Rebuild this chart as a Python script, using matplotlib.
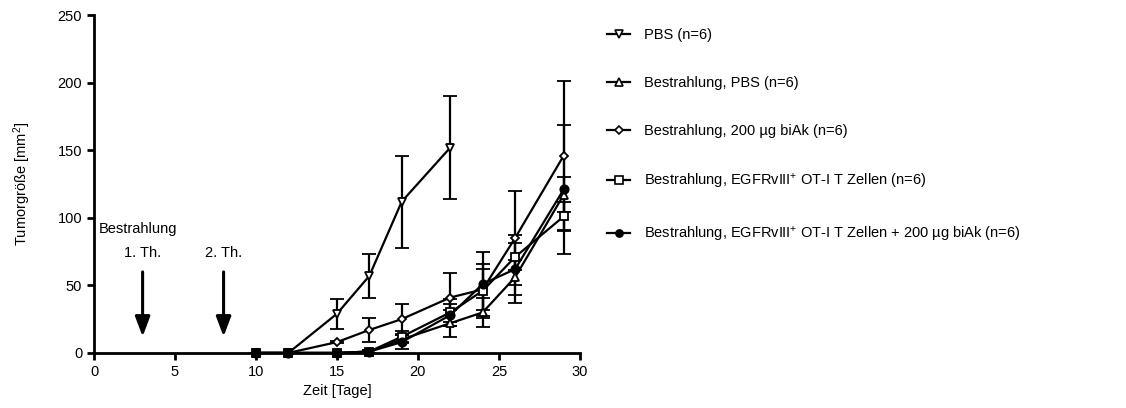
import matplotlib.pyplot as plt
from matplotlib.lines import Line2D

plt.rcParams['font.family'] = ['Liberation Sans', 'DejaVu Sans']

tage = [10, 12, 15, 17, 19, 22, 24, 26, 29]

pbs = [0, 0, 29, 57, 112, 152]
pbs_err = [0, 0, 11, 16, 34, 38]

best_pbs = [0, 0, 0, 1, 10, 22, 30, 56, 117]
best_pbs_err = [0, 0, 0, 1, 3, 10, 11, 13, 13]

best_biak = [0, 0, 8, 17, 25, 41, 47, 85, 146]
best_biak_err = [0, 0, 1, 9, 11, 18, 15, 35, 55]

best_ot = [0, 0, 0, 1, 12, 30, 46, 71, 101]
best_ot_err = [0, 0, 0, 1, 4, 10, 20, 10, 11]

best_ot_biak = [0, 0, 0, 1, 8, 28, 51, 62, 121]
best_ot_biak_err = [0, 0, 0, 1, 5, 8, 24, 25, 48]

labels = ['PBS (n=6)',
          'Bestrahlung, PBS (n=6)',
          'Bestrahlung, 200 µg biAk (n=6)',
          'Bestrahlung, EGFRvIII$\\mathregular{^{+}}$ OT-I T Zellen (n=6)',
          'Bestrahlung, EGFRvIII$\\mathregular{^{+}}$ OT-I T Zellen + 200 µg biAk (n=6)']

serien = [(pbs, pbs_err, 'v', 'white', 6),
          (best_pbs, best_pbs_err, '^', 'white', 6),
          (best_biak, best_biak_err, 'D', 'white', 4.5),
          (best_ot, best_ot_err, 's', 'white', 6),
          (best_ot_biak, best_ot_biak_err, 'o', 'black', 6)]

fig = plt.figure(figsize=(11.26, 4.08), dpi=100)
ax = fig.add_axes([0.0835, 0.135, 0.4315, 0.828])

handles = []
for (werte, fehler, m, fc, ms), lab in zip(serien, labels):
    x = tage[:len(werte)]
    ax.errorbar(x, werte, yerr=fehler, color='black', lw=1.6, marker=m,
                ms=ms, mfc=fc, mec='black', mew=1.3, capsize=5,
                capthick=1.6, elinewidth=1.6, clip_on=False, zorder=3)
    handles.append(Line2D([], [], color='black', lw=1.6, marker=m,
                          ms=ms * 0.85, mfc=fc, mec='black', mew=1.2))

ax.set_xlim(0, 30)
ax.set_ylim(0, 250)
ax.set_xticks(range(0, 31, 5))
ax.set_yticks(range(0, 251, 50))
ax.spines['top'].set_visible(False)
ax.spines['right'].set_visible(False)
ax.spines['left'].set_linewidth(2)
ax.spines['bottom'].set_linewidth(2)
ax.tick_params(width=2, length=5, labelsize=10.5, direction='out')

ax.set_xlabel('Zeit [Tage]', fontsize=10.5)
ax.set_ylabel('Tumorgröße [mm$\\mathregular{^2}$]', fontsize=10.5, labelpad=18)

# Bestrahlungszeitpunkte
for xp in [3, 8]:
    ax.annotate('', xy=(xp, 10), xytext=(xp, 62),
                arrowprops=dict(arrowstyle='-|>,head_width=0.45,head_length=1.2',
                                color='black', lw=2.2))
ax.text(0.3, 92, 'Bestrahlung', fontsize=10.5, va='center', ha='left')
ax.text(3, 74, '1. Th.', fontsize=10.5, va='center', ha='center')
ax.text(8, 74, '2. Th.', fontsize=10.5, va='center', ha='center')

fig.legend(handles, labels, loc='upper left', bbox_to_anchor=(0.5275, 0.963),
           frameon=False, fontsize=10.5, labelspacing=2.32,
           handlelength=1.6, handletextpad=0.9)

fig.savefig('out.png', dpi=100)
